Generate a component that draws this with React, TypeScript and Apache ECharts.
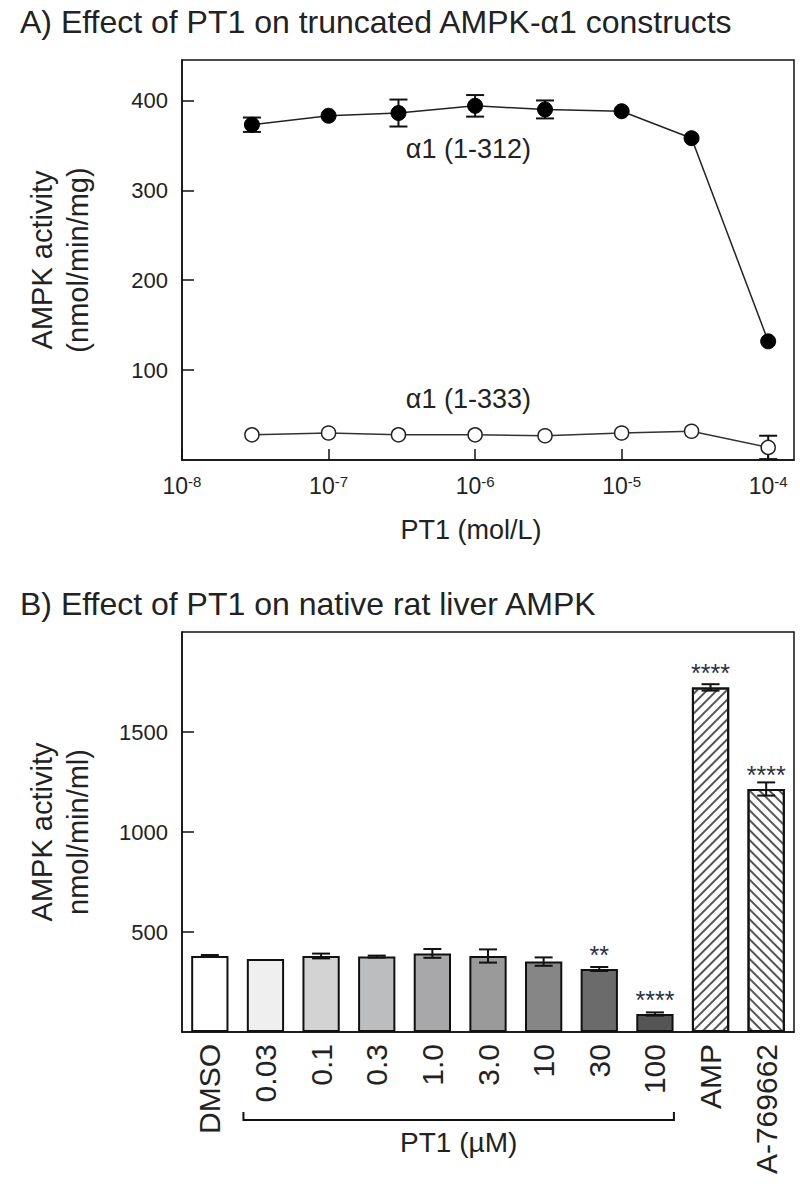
import React, { useEffect, useRef } from 'react';
import * as echarts from 'echarts';

// ---------- Panel A data ----------
const concA = [3e-8, 1e-7, 3e-7, 1e-6, 3e-6, 1e-5, 3e-5, 1e-4];
const a312 = [373, 383, 386, 394, 390, 388, 358, 132];
const a312Err = [8, 0, 15, 12, 10, 0, 0, 0];
const a333 = [28, 30, 28, 28, 27, 30, 32, 14];
const a333Err = [0, 0, 0, 0, 0, 0, 0, 13];
const labelA312 = 'α1 (1-312)';
const labelA333 = 'α1 (1-333)';
const labelPosA312 = [9e-7, 346];
const labelPosA333 = [9e-7, 68];

// ---------- Panel B data ----------
const catsB = ['DMSO', '0.03', '0.1', '0.3', '1.0', '3.0', '10', '30', '100', 'AMP', 'A-769662'];
const valsB = [380, 365, 380, 377, 393, 380, 352, 315, 90, 1723, 1215];
const errB = [5, 0, 12, 5, 22, 33, 21, 10, 8, 16, 33];
const sigB = ['', '', '', '', '', '', '', '**', '****', '****', '****'];
const fillB = ['#ffffff', '#efefef', '#d3d3d4', '#bcbdbf', '#a8a8aa', '#9a9a9b', '#868686', '#6b6b6b', '#555555', '#ffffff', '#ffffff'];
const hatchB = ['', '', '', '', '', '', '', '', '', 'up', 'down'];

const FONT = '"Liberation Sans", Arial, sans-serif';
const TXT = '#222';

function errRender(params: any, api: any) {
  const x = api.value(0);
  const y = api.value(1);
  const e = api.value(2);
  if (!e) return null;
  const top = api.coord([x, y + e]);
  const bot = api.coord([x, y - e]);
  const w = 9;
  const st = { stroke: '#111', lineWidth: 2 };
  return {
    type: 'group',
    children: [
      { type: 'line', shape: { x1: top[0], y1: top[1], x2: bot[0], y2: bot[1] }, style: st },
      { type: 'line', shape: { x1: top[0] - w, y1: top[1], x2: top[0] + w, y2: top[1] }, style: st },
      { type: 'line', shape: { x1: bot[0] - w, y1: bot[1], x2: bot[0] + w, y2: bot[1] }, style: st },
    ],
  };
}

export default function App() {
  const ref = useRef<HTMLDivElement>(null);
  useEffect(() => {
    if (!ref.current) return;
    const chart = echarts.init(ref.current, undefined, { renderer: 'svg' });
    const axisLineStyle = { color: '#111', width: 1.5 };
    const titles = [
      { type: 'text', left: 20, top: 6, style: { text: 'A) Effect of PT1 on truncated AMPK-α1 constructs', fontSize: 32, fill: TXT, fontFamily: FONT } },
      { type: 'text', left: 20, top: 588, style: { text: 'B) Effect of PT1 on native rat liver AMPK', fontSize: 32, fill: TXT, fontFamily: FONT } },
    ];
    const option: any = {
      animation: false,
      backgroundColor: '#fff',
      textStyle: { fontFamily: FONT, color: TXT },
      grid: [
        { left: 182, top: 60, width: 612, height: 400, show: true, borderColor: '#111', borderWidth: 1.5, backgroundColor: 'transparent' },
        { left: 182, top: 632, width: 612, height: 400, show: true, borderColor: '#111', borderWidth: 1.5, backgroundColor: 'transparent' },
      ],
      xAxis: [
        {
          type: 'log', gridIndex: 0, logBase: 10, min: 1e-8, max: 1.5e-4,
          axisLine: { lineStyle: axisLineStyle },
          axisTick: { inside: true, length: 11, lineStyle: { color: '#111', width: 1.5 } },
          splitLine: { show: false },
          axisLabel: {
            showMaxLabel: false, margin: 14, fontSize: 23, color: TXT, fontFamily: FONT,
            formatter: (v: number) => '10{s|' + Math.round(Math.log10(v)) + '}',
            rich: { s: { fontSize: 15, verticalAlign: 'top', color: TXT, fontFamily: FONT, padding: [0, 0, 8, 0] } },
          },
          name: 'PT1 (mol/L)', nameLocation: 'middle', nameGap: 56,
          nameTextStyle: { fontSize: 27, color: TXT, fontFamily: FONT, padding: [0, 34, 0, 0] },
        },
        {
          type: 'category', gridIndex: 1, data: catsB,
          axisLine: { lineStyle: axisLineStyle },
          axisTick: { show: false },
          axisLabel: { rotate: 90, interval: 0, margin: 12, fontSize: 30, color: TXT, fontFamily: FONT },
        },
      ],
      yAxis: [
        {
          type: 'value', gridIndex: 0, min: 0, max: 445, interval: 100,
          axisLine: { show: true, lineStyle: axisLineStyle },
          axisTick: { show: true, inside: true, length: 12, lineStyle: { color: '#111', width: 1.5 } },
          splitLine: { show: false },
          axisLabel: { showMinLabel: false, showMaxLabel: false, margin: 14, fontSize: 22, color: TXT, fontFamily: FONT, formatter: (v: number) => String(v) },
          name: 'AMPK activity\n(nmol/min/mg)', nameLocation: 'middle', nameGap: 86,
          nameTextStyle: { fontSize: 29, lineHeight: 36, color: TXT, fontFamily: FONT },
        },
        {
          type: 'value', gridIndex: 1, min: 0, max: 2000, interval: 500,
          axisLine: { show: true, lineStyle: axisLineStyle },
          axisTick: { show: true, inside: true, length: 12, lineStyle: { color: '#111', width: 1.5 } },
          splitLine: { show: false },
          axisLabel: { showMinLabel: false, showMaxLabel: false, margin: 14, fontSize: 22, color: TXT, fontFamily: FONT, formatter: (v: number) => String(v) },
          name: 'AMPK activity\nnmol/min/ml)', nameLocation: 'middle', nameGap: 86,
          nameTextStyle: { fontSize: 29, lineHeight: 36, color: TXT, fontFamily: FONT },
        },
      ],
      series: [
        {
          type: 'custom', xAxisIndex: 0, yAxisIndex: 0, z: 1,
          renderItem: errRender,
          data: concA.map((c, i) => [c, a312[i], a312Err[i]]),
        },
        {
          type: 'custom', xAxisIndex: 0, yAxisIndex: 0, z: 1,
          renderItem: errRender,
          data: concA.map((c, i) => [c, a333[i], a333Err[i]]),
        },
        {
          type: 'line', xAxisIndex: 0, yAxisIndex: 0, z: 3,
          data: concA.map((c, i) => [c, a312[i]]),
          symbol: 'circle', symbolSize: 15,
          lineStyle: { color: '#222', width: 1.5 },
          itemStyle: { color: '#000', borderColor: '#000', borderWidth: 1 },
        },
        {
          type: 'line', xAxisIndex: 0, yAxisIndex: 0, z: 3,
          data: concA.map((c, i) => [c, a333[i]]),
          symbol: 'circle', symbolSize: 14,
          lineStyle: { color: '#333', width: 1.5 },
          itemStyle: { color: '#fff', borderColor: '#222', borderWidth: 1.5 },
        },
        {
          type: 'scatter', xAxisIndex: 0, yAxisIndex: 0, symbolSize: 0, silent: true,
          itemStyle: { opacity: 1 },
          data: [labelPosA312],
          label: { show: true, position: 'inside', formatter: labelA312, fontSize: 27, color: TXT, fontFamily: FONT, opacity: 1 },
        },
        {
          type: 'scatter', xAxisIndex: 0, yAxisIndex: 0, symbolSize: 0, silent: true,
          itemStyle: { opacity: 1 },
          data: [labelPosA333],
          label: { show: true, position: 'inside', formatter: labelA333, fontSize: 27, color: TXT, fontFamily: FONT, opacity: 1 },
        },
        {
          type: 'bar', xAxisIndex: 1, yAxisIndex: 1, barWidth: '67%', z: 2,
          data: valsB.map((v, i) => ({
            value: v,
            itemStyle: {
              color: fillB[i], borderColor: '#111', borderWidth: 2,
              decal: hatchB[i]
                ? {
                    symbol: 'rect', symbolSize: 1, color: '#555',
                    dashArrayX: [1, 0], dashArrayY: [1.5, 5],
                    rotation: hatchB[i] === 'up' ? -Math.PI / 4 : Math.PI / 4,
                  }
                : undefined,
            },
            label: { show: !!sigB[i], position: 'top', distance: 2, formatter: sigB[i], fontSize: 25, color: '#2a3040', fontFamily: FONT },
          })),
        },
        {
          type: 'custom', xAxisIndex: 1, yAxisIndex: 1, z: 4,
          renderItem: errRender,
          data: valsB.map((v, i) => [i, v, errB[i]]),
        },
      ],
      graphic: titles,
    };
    chart.setOption(option);
    const xl = chart.convertToPixel({ xAxisIndex: 1 }, catsB[1]) as number;
    const xr = chart.convertToPixel({ xAxisIndex: 1 }, catsB[8]) as number;
    const x1 = xl - 22;
    const x2 = xr + 19;
    const yb = 1120;
    chart.setOption({
      graphic: [
        ...titles,
        { type: 'polyline', shape: { points: [[x1, yb - 8], [x1, yb], [x2, yb], [x2, yb - 8]] }, style: { stroke: '#111', lineWidth: 2, fill: 'none' } },
        { type: 'text', x: (x1 + x2) / 2, y: yb + 8, style: { text: 'PT1 (µM)', fontSize: 28, fill: TXT, fontFamily: FONT, textAlign: 'center', textVerticalAlign: 'top' } },
      ],
    });
    return () => chart.dispose();
  }, []);
  return <div ref={ref} style={{ position: 'absolute', left: 0, top: 0, width: 800, height: 1194, background: '#fff' }} />;
}
